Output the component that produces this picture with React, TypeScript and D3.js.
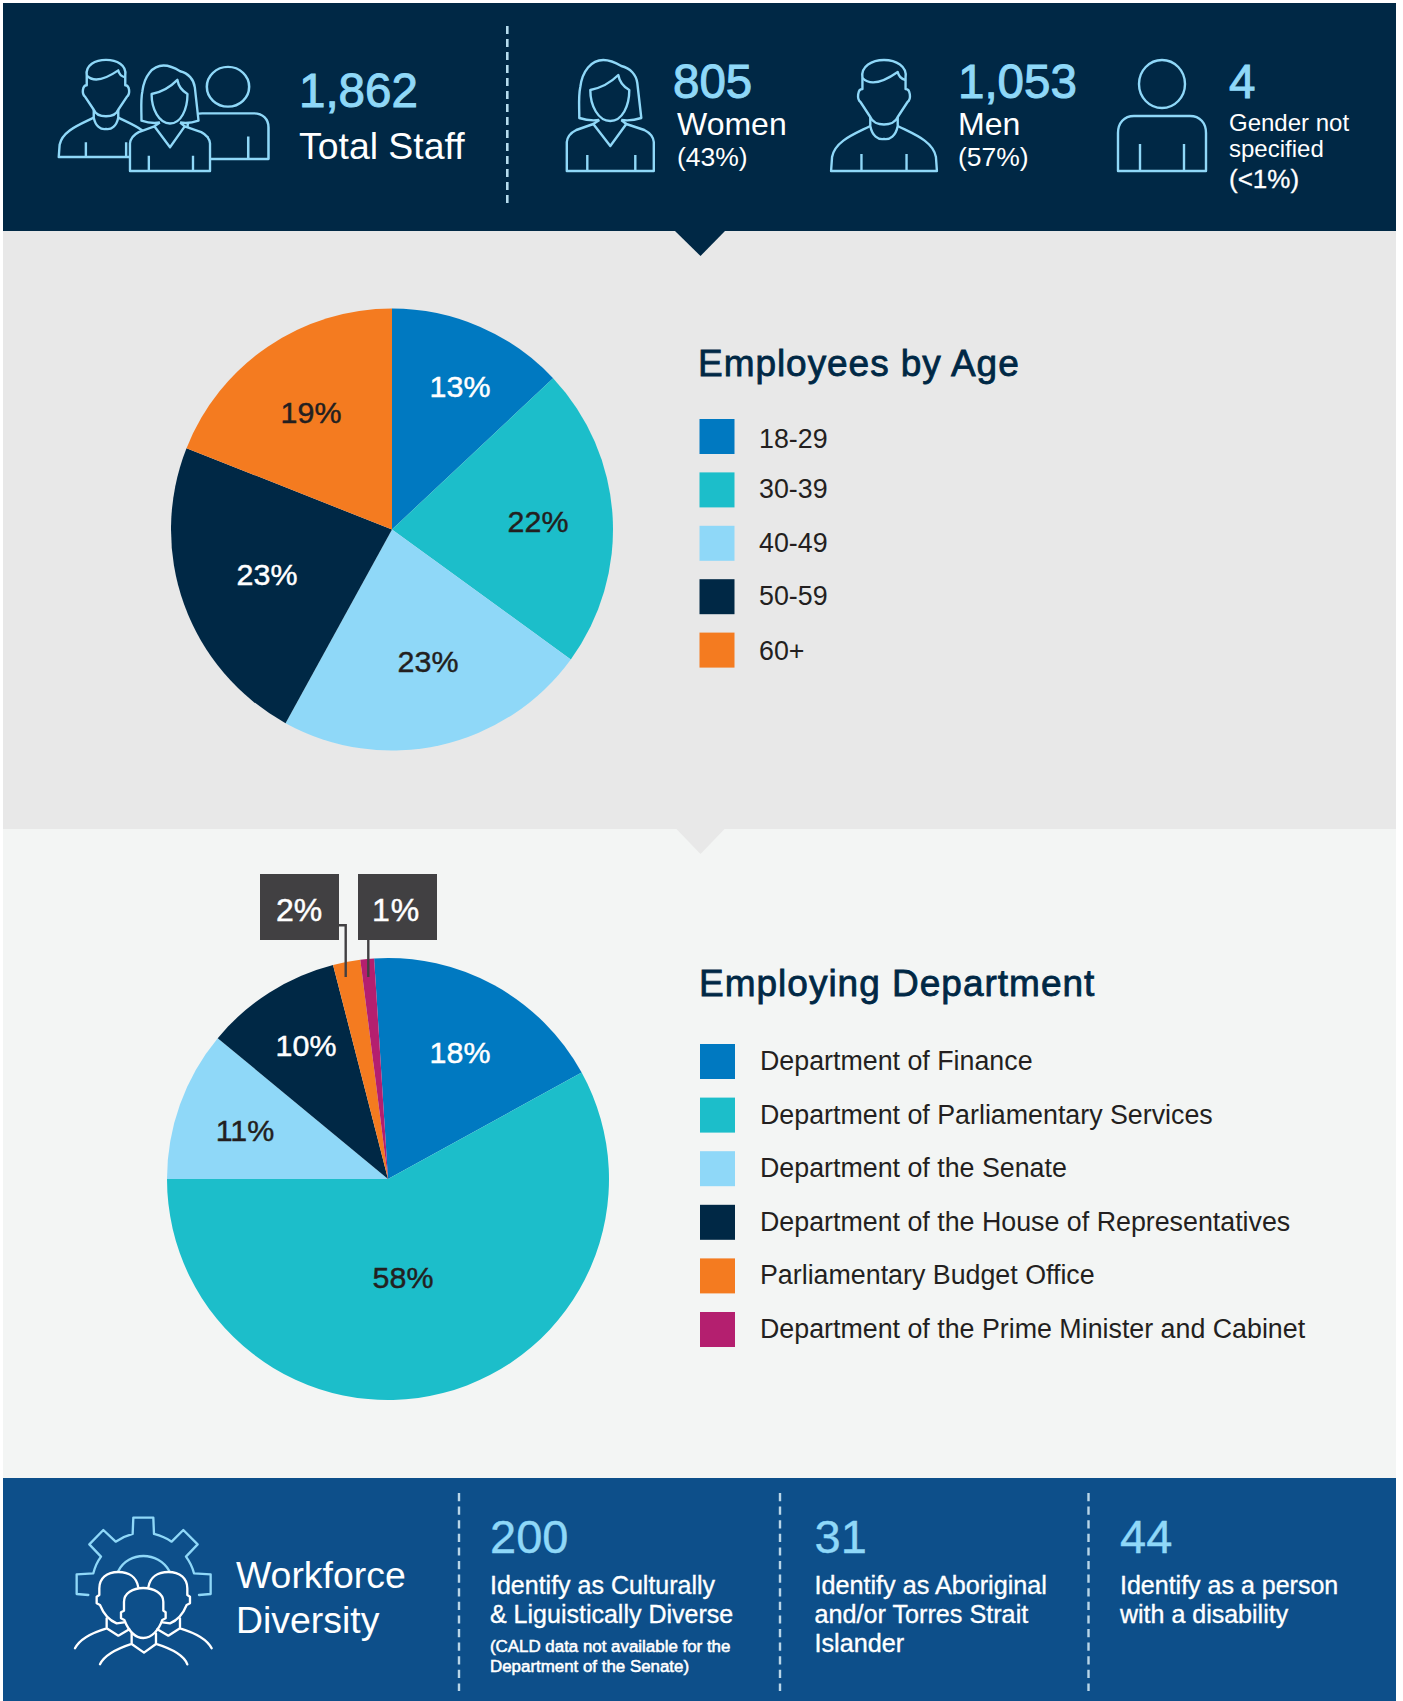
import React from "react";
import * as d3 from "d3";

// values
const ageLabels = ["18-29", "30-39", "40-49", "50-59", "60+"];
const ageValues = [13, 22, 23, 23, 19];
const deptLabels = [
  "Department of Finance",
  "Department of Parliamentary Services",
  "Department of the Senate",
  "Department of the House of Representatives",
  "Parliamentary Budget Office",
  "Department of the Prime Minister and Cabinet",
];
const deptValues = [18, 58, 11, 10, 2, 1];

const palette = ["#0079c1", "#1cbeca", "#8fd8f8", "#002845", "#f47b20", "#b41f6f"];
const navy = "#002845";
const sky = "#8fd8f8";
const blue = "#0d4f8a";
const callout = "#414042";
const font = "'Liberation Sans', Arial, sans-serif";

const color = d3.scaleOrdinal<number, string>().domain(d3.range(6)).range(palette);
const R = 221;
const arc = d3.arc<d3.PieArcDatum<number>>().innerRadius(0).outerRadius(R);

// label offsets from the pie centre
const ageOffsets = [[68, -143], [146, -8], [36, 132], [-125, 45], [-81, -117]];
const deptOffsets = [[72, -127], [15, 98], [-143, -49], [-82, -134]];

const pieSlices = (vals: number[], start: number) =>
  d3.pie<number>().sort(null).startAngle(start).endAngle(start + 2 * Math.PI)(vals);

type TProps = {
  x: number;
  y: number;
  s: number;
  c?: string;
  w?: number;
  ls?: number;
  anchor?: string;
  children: React.ReactNode;
};
const T = ({ x, y, s, c = "#fff", w = 0, ls = 0, anchor = "start", children }: TProps) => (
  <text
    x={x}
    y={y}
    fontSize={s}
    fill={c}
    stroke={w ? c : "none"}
    strokeWidth={w}
    letterSpacing={ls}
    textAnchor={anchor}
    fontFamily={font}
  >
    {children}
  </text>
);

// icons, drawn round the bottom centre
type IconProps = { x: number; y: number; kx?: number; ky?: number };
const iconAttrs = (x: number, y: number, kx: number, ky: number) => ({
  transform: `translate(${x},${y}) scale(${kx},${ky})`,
  fill: navy,
  stroke: sky,
  strokeWidth: 2.4 / ((kx + ky) / 2),
  strokeLinejoin: "round" as const,
});

const Man = ({ x, y, kx = 1, ky = 1 }: IconProps) => (
  <g {...iconAttrs(x, y, kx, ky)}>
    <path d="M-14,-45 C-30,-37 -50,-30 -53,-14 L-54,0 H54 L53,-14 C50,-30 30,-37 14,-45" />
    <path d="M-23,0 V-17 M23,0 V-17" />
    <path d="M-14,-54 V-45 C-12,-35 -6,-31 0,-32 C6,-31 12,-35 14,-45 V-54" />
    <path d="M-22,-82 V-93 C-24,-105 -12,-111 0,-111 C12,-111 24,-105 22,-93 V-82 C27,-82 28,-72 24,-69 L14,-54 C10,-44 -10,-44 -14,-54 L-24,-69 C-28,-72 -27,-82 -22,-82 Z" />
    <path d="M-22,-93 C-14,-85 -2,-88 14,-99 C15,-94 18,-92 22,-91" fill="none" />
  </g>
);

const Woman = ({ x, y, kx = 1, ky = 1 }: IconProps) => (
  <g {...iconAttrs(x, y, kx, ky)}>
    <path d="M-11,-51 C-18,-50 -25,-51 -31,-53 C-31,-65 -32,-75 -30,-84 C-28,-100 -19,-111 -7,-111 C1,-111 6,-108 11,-105 C20,-103 26,-96 27,-88 L31,-53 C25,-51 18,-50 11,-51" />
    <path d="M-17,-47 L-34,-41 C-40,-38 -43,-34 -43.5,-29 V0 H43.5 V-29 C43,-34 40,-38 34,-41 L16,-47 L0,-25 Z" />
    <path d="M-23,0 V-16 M25,0 V-16 M-11,-51 L-17,-47 M11,-51 L16,-47" />
    <path d="M-20,-81 C-10,-83 0,-88 8,-96 C9,-90 12,-85 19,-81 C19,-65 12,-50 0,-50 C-12,-50 -20,-65 -20,-81 Z" />
  </g>
);

const Person = ({ x, y, kx = 1, ky = 1 }: IconProps) => (
  <g {...iconAttrs(x, y, kx, ky)}>
    <ellipse cx={0} cy={-87} rx={23} ry={24} />
    <path d="M-44,0 V-38 C-44,-48 -38,-55 -28,-55 H28 C38,-55 44,-48 44,-38 V0 Z" />
    <path d="M-22,0 V-27 M22,0 V-27" />
  </g>
);

const DiversityIcon = () => (
  <g fill="none" strokeLinejoin="round" strokeLinecap="round">
    <g transform="translate(0,1470) scale(0.3333)" strokeWidth={7}>
      <path
        stroke={sky}
        d="M265,375 L230,372 V313 L280,310 C285,290 292,275 303,260 L268,223 L310,180 L347,215 C362,205 380,197 398,192 L400,143 H460 L462,192 C480,197 500,205 515,215 L550,180 L593,223 L558,260 C569,275 577,290 582,310 L632,313 V372 L597,375 M355,303 C385,243 475,243 508,303"
      />
      <g stroke="#fff">
        <path d="M415,352 C410,320 385,306 355,306 C320,306 298,325 298,355 V375 L290,380 V400 L300,405 C310,430 325,450 350,460 L372,457" />
        <path d="M445,352 C450,320 475,306 505,306 C540,306 562,325 562,355 V375 L570,380 V400 L560,405 C550,430 535,450 510,460 L488,457" />
        <path d="M320,445 V475 C280,487 240,505 225,535 M320,475 L355,497 L388,478" />
        <path d="M540,445 V475 C580,487 620,505 635,535 M540,475 L505,497 L472,478" />
        <path d="M372,422 V395 C372,370 398,354 430,354 C462,354 490,370 490,395 V422 L497,427 V445 L487,450 C477,480 455,504 430,504 C405,504 385,480 373,450 L363,445 V427 Z" />
        <path d="M395,490 V522 C355,535 315,552 300,583 M395,522 L432,548 L468,522 V490 M468,522 C510,535 550,552 562,583" />
      </g>
    </g>
  </g>
);

type LegendProps = { labels: string[]; y0: number; step: number; lx: number; sx: number; dy: number[] };
const Legend = ({ labels, y0, step, lx, sx, dy }: LegendProps) => {
  const rows = d3.scaleLinear().domain([0, 1]).range([y0, y0 + step]);
  return (
    <g>
      {labels.map((d, i) => (
        <g key={d}>
          <rect x={sx} y={rows(i)} width={35} height={35} fill={color(i)} />
          <T x={lx} y={rows(i) + dy[i]} s={26.8} c="#231f20">
            {d}
          </T>
        </g>
      ))}
    </g>
  );
};

const Pie = ({ vals, start, cx, cy }: { vals: number[]; start: number; cx: number; cy: number }) => (
  <g transform={`translate(${cx},${cy})`}>
    {pieSlices(vals, start).map((s, i) => (
      <path key={i} d={arc(s) || ""} fill={color(i)} />
    ))}
  </g>
);

const PieLabel = ({ x, y, dark, v }: { x: number; y: number; dark: boolean; v: number }) => (
  <T x={x} y={y + 10.5} s={30.4} c={dark ? "#231f20" : "#fff"} anchor="middle" w={0.45}>
    {v}%
  </T>
);

export default function App() {
  const ageDark = [false, true, true, false, true];
  const deptDark = [false, true, true, false];
  const age = { cx: 392, cy: 529.5 };
  const dept = { cx: 388, cy: 1179 };
  return (
    <svg width={1403} height={1701} style={{ position: "absolute", left: 0, top: 0, display: "block" }}>
      <rect width={1403} height={1701} fill="#fff" />
      <rect x={3} y={231} width={1393} height={598} fill="#e8e8e8" />
      <rect x={3} y={829} width={1393} height={649} fill="#f3f5f4" />
      <rect x={3} y={3} width={1393} height={228} fill={navy} />
      <rect x={3} y={1478} width={1393} height={223} fill={blue} />
      <path d="M675,231 H725 L700.5,256 Z" fill={navy} />
      <path d="M676.5,829 H724.5 L700.5,854 Z" fill="#e8e8e8" />

      {/* header */}
      <Person x={228} y={159} kx={0.92} ky={0.83} />
      <Man x={106} y={157} kx={0.875} ky={0.875} />
      <Woman x={170} y={171} kx={0.92} ky={0.95} />
      <T x={299} y={107} s={47.5} c={sky} w={1}>1,862</T>
      <T x={299} y={159} s={37.4}>Total Staff</T>
      <line x1={507.3} x2={507.3} y1={26} y2={205} stroke="#b5dcee" strokeWidth={2.6} strokeDasharray="8 5" />

      <Woman x={610.3} y={171} />
      <T x={673} y={97.5} s={47.5} c={sky} w={1}>805</T>
      <T x={677} y={135} s={32}>Women</T>
      <T x={677} y={166} s={26.5}>(43%)</T>

      <Man x={884} y={171} kx={0.98} />
      <T x={958} y={97.5} s={47.5} c={sky} w={1}>1,053</T>
      <T x={958} y={135} s={32}>Men</T>
      <T x={958} y={166} s={26.5}>(57%)</T>

      <Person x={1162} y={171} />
      <T x={1229} y={97.5} s={47.5} c={sky} w={1}>4</T>
      <T x={1229} y={131} s={24}>Gender not</T>
      <T x={1229} y={157} s={24}>specified</T>
      <T x={1229} y={188} s={26} w={0.3}>(&lt;1%)</T>

      {/* age */}
      <Pie vals={ageValues} start={0} {...age} />
      {ageValues.map((v, i) => (
        <PieLabel key={i} x={age.cx + ageOffsets[i][0]} y={age.cy + ageOffsets[i][1]} dark={ageDark[i]} v={v} />
      ))}
      <T x={698} y={376} s={37} c={navy} w={0.8} ls={0.95}>Employees by Age</T>
      <Legend labels={ageLabels} y0={419} step={53.4} lx={759} sx={699.5} dy={[29, 26, 26, 26, 27]} />

      {/* department */}
      <Pie vals={deptValues} start={(-3.6 * Math.PI) / 180} {...dept} />
      {deptOffsets.map((o, i) => (
        <PieLabel key={i} x={dept.cx + o[0]} y={dept.cy + o[1]} dark={deptDark[i]} v={deptValues[i]} />
      ))}
      <path d="M339,925.3 H345.7 V977 M368.3,940 V977" fill="none" stroke={callout} strokeWidth={2.4} />
      <rect x={260} y={874} width={79} height={66} fill={callout} />
      <rect x={358} y={874} width={79} height={66} fill={callout} />
      <T x={299} y={921} s={32} anchor="middle" w={0.45}>{deptValues[4]}%</T>
      <T x={396} y={921} s={32} anchor="middle" w={0.45} ls={1}>{deptValues[5]}%</T>
      <T x={699} y={995.5} s={37} c={navy} w={0.8} ls={1}>Employing Department</T>
      <Legend labels={deptLabels} y0={1044} step={53.6} lx={760} sx={700} dy={Array(6).fill(26)} />

      {/* diversity */}
      <DiversityIcon />
      <T x={236} y={1588} s={37.4}>Workforce</T>
      <T x={236} y={1633} s={37.4}>Diversity</T>
      {[459, 780, 1088.5].map((x) => (
        <line key={x} x1={x} x2={x} y1={1493} y2={1691} stroke="#b9d6e8" strokeWidth={2.4} strokeDasharray="8.2 5.4" />
      ))}
      <T x={490} y={1552.5} s={47} c={sky} w={0.4}>200</T>
      <T x={490} y={1594} s={25} w={0.35}>Identify as Culturally</T>
      <T x={490} y={1623} s={25} w={0.35}>&amp; Liguistically Diverse</T>
      <T x={490} y={1651.5} s={16.9} w={0.55}>(CALD data not available for the</T>
      <T x={490} y={1671.5} s={16.9} w={0.55}>Department of the Senate)</T>
      <T x={814.5} y={1552.5} s={47} c={sky} w={0.4}>31</T>
      <T x={814.5} y={1594} s={25.2} w={0.35}>Identify as Aboriginal</T>
      <T x={814.5} y={1623} s={25.2} w={0.35}>and/or Torres Strait</T>
      <T x={814.5} y={1651.5} s={25.2} w={0.35}>Islander</T>
      <T x={1120} y={1552.5} s={47} c={sky} w={0.4}>44</T>
      <T x={1120} y={1594} s={25} w={0.35}>Identify as a person</T>
      <T x={1120} y={1623} s={25} w={0.35}>with a disability</T>
    </svg>
  );
}
